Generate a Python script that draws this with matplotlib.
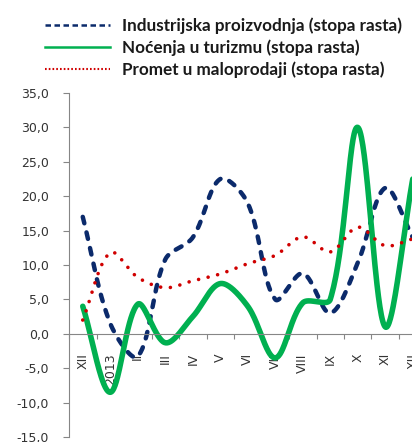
import numpy as np
import matplotlib
matplotlib.use("Agg")
import matplotlib.pyplot as plt
from matplotlib.lines import Line2D

# categories (months, Dec 2012 .. Dec 2013)
months = ["XII", "2013", "II", "III", "IV", "V", "VI", "VII", "VIII", "IX", "X", "XI", "XII"]

industrija = [17.0, 1.5, -3.3, 10.8, 14.0, 22.5, 19.0, 5.0, 8.8, 3.0, 10.3, 21.2, 14.0]
turizam = [4.0, -8.5, 4.3, -1.3, 2.5, 7.3, 4.0, -3.5, 4.5, 5.0, 30.0, 1.0, 22.5]
promet = [2.0, 11.8, 8.2, 6.7, 7.7, 8.7, 10.2, 11.4, 14.1, 11.9, 15.5, 12.8, 13.8]

labels = ["Industrijska proizvodnja (stopa rasta)",
          "Noćenja u turizmu (stopa rasta)",
          "Promet u maloprodaji (stopa rasta)"]

yticks = np.arange(-15, 36, 5)


def smooth(ax, y, n=40):
    # Excel-like smoothed line, built in screen space so the
    # tangents scale with the length of the neighbouring segments
    y = np.asarray(y, float)
    x = np.arange(len(y), dtype=float)
    P = ax.transData.transform(np.column_stack([x, y]))
    m = len(P)
    cin, cout = P.copy(), P.copy()
    for i in range(m):
        a = P[max(i - 1, 0)]
        b = P[min(i + 1, m - 1)]
        d = b - a
        lp = np.hypot(*(P[i] - a))
        ln = np.hypot(*(b - P[i]))
        if lp + ln == 0:
            continue
        cout[i] = P[i] + d * ln / (lp + ln) / 3
        cin[i] = P[i] - d * lp / (lp + ln) / 3
    t = np.linspace(0, 1, n)[:, None]
    segs = []
    for i in range(m - 1):
        p0, p1, p2, p3 = P[i], cout[i], cin[i + 1], P[i + 1]
        segs.append((1 - t) ** 3 * p0 + 3 * (1 - t) ** 2 * t * p1
                    + 3 * (1 - t) * t ** 2 * p2 + t ** 3 * p3)
    pts = ax.transData.inverted().transform(np.vstack(segs))
    return pts[:, 0], pts[:, 1]


blue = "#0B2A6B"
green = "#00B050"
red = "#D00000"
grey = "#868686"

fig = plt.figure(figsize=(4.12, 4.42), dpi=100)
ax = fig.add_axes([69 / 412, 5 / 442, 13 * 27.5 / 412, 344 / 442])
ax.set_xlim(-0.5, len(months) - 0.5)
ax.set_ylim(-15, 35)

x, y = smooth(ax, industrija)
ax.plot(x, y, color=blue, lw=3.2, linestyle=(0, (1.5, 2.1)), dash_capstyle="round")
x, y = smooth(ax, turizam)
ax.plot(x, y, color=green, lw=4.0, solid_capstyle="round")
x, y = smooth(ax, promet)
ax.plot(x, y, color=red, lw=2.6, linestyle=(0, (0.01, 2.7)), dash_capstyle="round")

for s in ["top", "right"]:
    ax.spines[s].set_visible(False)
ax.spines["left"].set_color(grey)
ax.spines["bottom"].set_color(grey)
ax.spines["left"].set_linewidth(0.8)
ax.spines["bottom"].set_linewidth(0.8)
ax.spines["bottom"].set_position(("data", 0))

ax.set_yticks(yticks)
ax.set_yticklabels([f"{v:.1f}".replace(".", ",") for v in yticks])
ax.tick_params(axis="y", direction="out", length=4.3, width=0.8, color=grey,
               pad=10, labelsize=9, labelcolor="#333333")

ax.set_xticks(np.arange(len(months) + 1) - 0.5)
ax.set_xticklabels([])
ax.tick_params(axis="x", which="major", direction="out", length=3.6, width=0.8, color=grey)
ax.set_xticks(np.arange(len(months)), minor=True)
ax.set_xticklabels(months, minor=True, rotation=90, va="top", ha="center")
ax.tick_params(axis="x", which="minor", length=0, pad=14, labelsize=9, labelcolor="#333333")

handles = [
    Line2D([], [], color=blue, lw=1.8, linestyle=(0, (2.2, 1.4))),
    Line2D([], [], color=green, lw=1.8),
    Line2D([], [], color=red, lw=1.5, linestyle=(0, (0.8, 1.0))),
]
leg = fig.legend(handles, labels, loc="upper left", bbox_to_anchor=(45 / 412, 1 - 17 / 442),
                 frameon=False, borderpad=0, borderaxespad=0,
                 handlelength=3.8, handletextpad=0.7, labelspacing=0.32,
                 prop={"family": "Lato", "weight": "bold", "size": 12.3})
for t in leg.get_texts():
    t.set_color("#1a1a1a")

fig.savefig("out.png", dpi=100)
